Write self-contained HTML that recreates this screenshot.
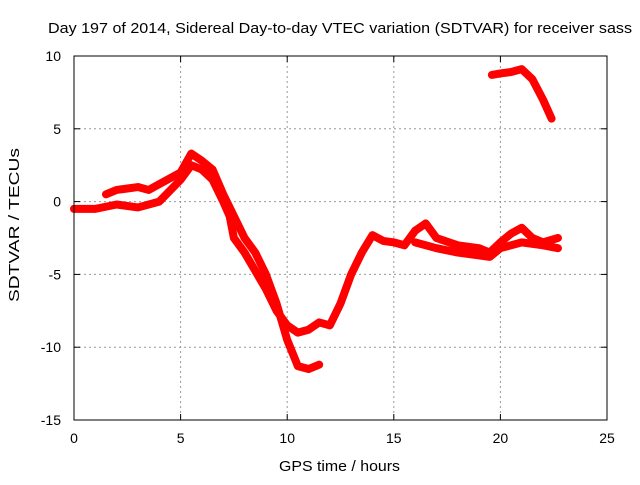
<!DOCTYPE html>
<html><head><meta charset="utf-8"><style>
body{margin:0;background:#fff}
svg text{font-family:"Liberation Sans",sans-serif;font-size:14px;fill:#000}
</style></head><body>
<svg width="640" height="480" id="c">
<text x="48" y="33" textLength="584" lengthAdjust="spacingAndGlyphs" style="font-size:15px">Day 197 of 2014, Sidereal Day-to-day VTEC variation (SDTVAR) for receiver sass</text>
<text x="279" y="471" textLength="121" lengthAdjust="spacingAndGlyphs" style="font-size:15px">GPS time / hours</text>
<text transform="translate(19,302) rotate(-90)" textLength="154" lengthAdjust="spacingAndGlyphs" style="font-size:15px">SDTVAR / TECUs</text>
<g id="grid"></g><g id="series"></g>
<rect x="74" y="56" width="533" height="364" fill="none" stroke="#000" stroke-width="1"/>
</svg>
<script>
const xTicks=[0,5,10,15,20,25];
const yTicks=[10,5,0,-5,-10,-15];
const trackA_h=[0,1,2,3,4,5,5.5,6,6.5,7,7.3,7.5,8,9,9.5,10,10.5,11,11.5,12,12.5,13,13.5,14,14.5,15,15.5,16,16.5,17,18,19,19.5,20,20.5,21,21.5,22,22.7];
const trackA_v=[-0.5,-0.5,-0.2,-0.4,0,1.5,2.5,2.2,1.5,0,-1,-2.5,-3.5,-6,-7.5,-8.5,-9,-8.8,-8.3,-8.5,-7,-5,-3.5,-2.3,-2.7,-2.8,-3,-2,-1.5,-2.5,-3,-3.2,-3.5,-2.8,-2.2,-1.8,-2.5,-2.8,-2.5];
const trackB_h=[1.5,2,3,3.5,4,5,5.5,6,6.5,7,7.5,8,8.5,9,9.5,10,10.5,11,11.5];
const trackB_v=[0.5,0.8,1,0.8,1.2,2,3.3,2.8,2.2,0.5,-1,-2.5,-3.5,-5,-7,-9.5,-11.3,-11.5,-11.2];
const trackC_h=[19.6,20,20.5,21,21.5,22,22.4];
const trackC_v=[8.7,8.8,8.9,9.1,8.4,7,5.7];
const trackD_h=[16,17,18,19,19.5,20,21,22,22.7];
const trackD_v=[-2.8,-3.2,-3.5,-3.7,-3.8,-3.2,-2.8,-3,-3.2];
const X=h=>74+h*533/25, Y=v=>56+(10-v)*364/25;
const NS="http://www.w3.org/2000/svg";
const g=document.getElementById('grid'), s=document.getElementById('series');
function mk(t,a,p){const e=document.createElementNS(NS,t);for(const k in a)e.setAttribute(k,a[k]);p.appendChild(e);return e;}
xTicks.forEach(t=>{
 if(t>0&&t<25){const l=mk('line',{x1:X(t),x2:X(t),y1:56,y2:420,stroke:'#999','stroke-dasharray':'2,3'},g);
 
 }
 mk('line',{x1:X(t),x2:X(t),y1:420,y2:414,stroke:'#000'},g);
 mk('line',{x1:X(t),x2:X(t),y1:56,y2:62,stroke:'#000'},g);
 const tx=mk('text',{x:X(t),y:443,'text-anchor':'middle'},g);tx.textContent=t;
 
 
});
yTicks.forEach(t=>{
 if(t<10&&t>-15){const l=mk('line',{x1:74,x2:607,y1:Y(t),y2:Y(t),stroke:'#999','stroke-dasharray':'2,3'},g);
 
 }
 mk('line',{x1:74,x2:80,y1:Y(t),y2:Y(t),stroke:'#000'},g);
 mk('line',{x1:607,x2:601,y1:Y(t),y2:Y(t),stroke:'#000'},g);
 const tx=mk('text',{x:61,y:Y(t)+5,'text-anchor':'end'},g);tx.textContent=t;
 
 
});
[[trackA_h,trackA_v,'track-a'],[trackB_h,trackB_v,'track-b'],[trackC_h,trackC_v,'track-c'],[trackD_h,trackD_v,'track-d']].forEach(([H,V,n])=>{
 const p=mk('polyline',{points:H.map((h,i)=>X(h)+','+Y(V[i])).join(' '),fill:'none',stroke:'#f00','stroke-width':8,'stroke-linejoin':'round','stroke-linecap':'round'},s);
 
 
});
</script>
</body></html>
